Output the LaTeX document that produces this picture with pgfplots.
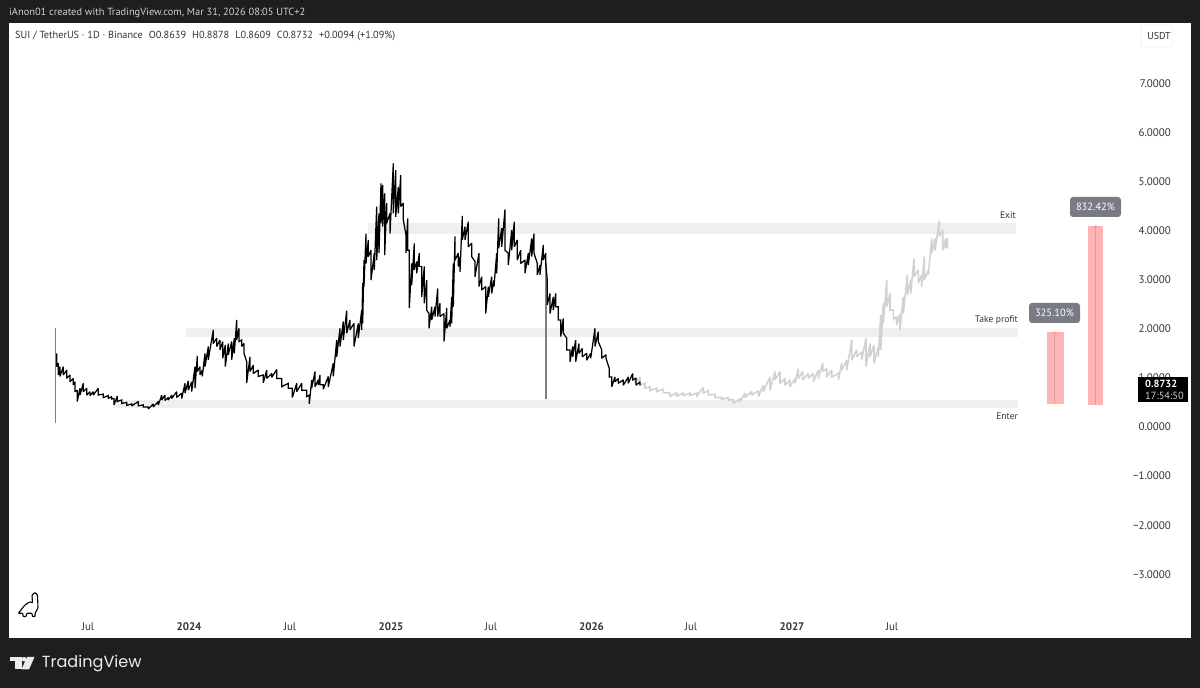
\documentclass[border=0pt]{standalone}
\usepackage{fontspec}
\setmainfont{PT Sans}
\newfontfamily\logofont{Poppins}
\usepackage{pgfplots}
\pgfplotsset{compat=1.18}
\definecolor{frame}{HTML}{1E1E1E}
\definecolor{bandc}{HTML}{EFEFEF}
\definecolor{ghost}{HTML}{D2D2D2}
\definecolor{barc}{HTML}{FFB5B5}
\definecolor{barl}{HTML}{E39C9C}
\definecolor{tagc}{HTML}{787B86}
\definecolor{txt}{HTML}{333333}
\begin{document}
\begin{tikzpicture}[x=1pt,y=1pt]
\useasboundingbox (0,0) rectangle (1200,688);
\fill[frame] (0,0) rectangle (1200,688);
\begin{axis}[
  at={(9pt,50pt)},anchor=south west,
  scale only axis,width=1182pt,height=615pt,
  xmin=9,xmax=1191,ymin=-4.297,ymax=8.228,
  axis background/.style={fill=white},
  axis line style={draw=none},
  major tick length=0pt,
  tick label style={font=\fontsize{11}{12}\selectfont,text=txt},
  xtick={88,189,290,391,491,591.5,691,792,892},
  xticklabels={Jul,\textbf{2024},Jul,\textbf{2025},Jul,\textbf{2026},Jul,\textbf{2027},Jul},
  xticklabel style={anchor=center,yshift=11pt},
  ytick={-3,-2,-1,0,1,2,3,4,5,6,7},
  yticklabels={−3.0000,−2.0000,−1.0000,0.0000,1.0000,2.0000,3.0000,4.0000,5.0000,6.0000,7.0000},
  yticklabel pos=right,
  yticklabel style={anchor=east,xshift=-16.5pt},
  clip=false,
]
% zones
\addplot[fill=bandc,draw=none] coordinates {(368,4.15)(1016,4.15)(1016,3.93)(368,3.93)} --cycle;
\addplot[fill=bandc,draw=none] coordinates {(186,2.02)(1018,2.02)(1018,1.83)(186,1.83)} --cycle;
\addplot[fill=bandc,draw=none] coordinates {(113,0.55)(1018,0.55)(1018,0.39)(113,0.39)} --cycle;
% projected path
\addplot[ghost,line width=1.6pt,line join=miter,miter limit=2] coordinates {
(635,1.02)(635,.89)(640,1.02)(640,.85)(645,.89)(645,.79)(650,.82)(650,.74)(656.7,.79)(656.7,.72)
(663.3,.77)(663.3,.70)(670,.69)(670,.62)(676.7,.70)(676.7,.63)(683.3,.69)(683.3,.64)(690,.69)(690,.64)
(696.7,.69)(696.7,.62)(703.3,.81)(703.3,.69)(708.3,.74)(708.3,.65)(715,.67)(715,.60)(721.7,.60)(721.7,.56)
(728.3,.60)(728.3,.55)(733.3,.56)(733.3,.48)(740,.58)(740,.52)(745,.69)(745,.60)(751.7,.72)(751.7,.65)
(758.3,.74)(758.3,.62)(763.3,.85)(763.3,.72)(770,1.02)(770,.75)(775,1.13)(775,.96)(780,1.13)(780,.89)
(785,.99)(785,.85)(790,.96)(790,.82)(795,.99)(795,.89)(798.3,1.19)(798.3,.99)(802.7,1.13)(802.7,.96)
(808.3,1.09)(808.3,.99)(813.3,1.09)(813.3,.92)(818.3,1.16)(818.3,.99)(822.7,1.30)(822.7,1.13)
(826.7,1.19)(826.7,1.02)(831.7,1.16)(831.7,1.02)(838.3,1.09)(838.3,.96)(841.7,1.30)(841.7,1.16)
(846.7,1.36)(846.7,1.16)(851.7,1.77)(851.7,1.36)(856.7,1.57)(856.7,1.43)(861.7,1.53)(861.7,1.36)
(866,1.81)(866,1.23)(870,1.70)(870,1.43)(874,1.67)(874,1.30)(878.3,1.63)(878.3,1.43)(880.7,2.28)(880.7,1.57)
(883.3,2.52)(883.3,2.11)(886.7,2.99)(886.7,2.45)(890,2.72)(890,2.38)(893.3,2.38)(893.3,2.18)
(896.7,2.25)(896.7,2.08)(900,2.31)(900,1.98)(903.3,2.65)(903.3,2.31)(907.3,3.10)(907.3,2.69)
(910.7,3.00)(910.7,2.72)(914,3.43)(914,3.06)(918.3,3.20)(918.3,2.93)(921.7,3.10)(921.7,2.86)
(924.3,3.47)(924.3,2.99)(928.3,3.20)(928.3,3.10)(931.7,3.84)(931.7,3.54)(935,3.84)(935,3.60)
(939.3,4.20)(939.3,3.88)(942.7,4.01)(942.7,3.60)(945.7,3.84)(945.7,3.64)(947.5,3.84)(947.5,3.64)};
% wicks
\addplot[gray,line width=1.3pt] coordinates {(55.7,2.01)(55.7,0.09)};
\addplot[gray,line width=1.3pt] coordinates {(546,3.33)(546,0.58)};
% price history
\addplot[black,line width=1.25pt,line join=miter,miter limit=2] coordinates {
(56.7,1.50)(56.7,1.23)(58.3,1.30)(58.3,1.06)(60,1.23)(60,1.03)(63.3,1.23)(63.3,1.06)(66.7,1.16)(66.7,.99)
(70,1.06)(70,.92)(73.3,.99)(73.3,.86)(75,.92)(75,.72)(77.3,.75)(77.3,.52)(80,.79)(80,.65)(83.3,.89)(83.3,.72)
(86.7,.79)(86.7,.65)(90,.72)(90,.64)(93.3,.72)(93.3,.65)(98.3,.79)(98.3,.65)(103.3,.67)(103.3,.60)
(108.3,.64)(108.3,.58)(111.7,.62)(111.7,.57)(114,.58)(114,.45)(117.3,.63)(117.3,.52)(121.7,.55)(121.7,.48)
(126.7,.50)(126.7,.44)(131.7,.47)(131.7,.43)(138.3,.52)(138.3,.43)(143.3,.45)(143.3,.41)(148.3,.41)(148.3,.37)
(153.3,.47)(153.3,.41)(158.3,.52)(158.3,.45)(161.7,.65)(161.7,.55)(165,.65)(165,.54)(168.3,.60)(168.3,.55)
(171.7,.65)(171.7,.58)(176.7,.72)(176.7,.60)(181.7,.69)(181.7,.58)(185,.89)(185,.69)(188.3,.94)(188.3,.75)
(191.7,.92)(191.7,.72)(195,1.23)(195,.79)(197.3,1.45)(197.3,1.13)(200,1.23)(200,1.06)(202.3,1.16)(202.3,1.03)
(205,1.50)(205,1.23)(208.3,1.64)(208.3,1.37)(213.3,1.98)(213.3,1.70)(216.7,1.81)(216.7,1.64)(220,1.77)(220,1.57)
(222.7,1.74)(222.7,1.40)(225.3,1.67)(225.3,1.23)(228.3,1.70)(228.3,1.47)(231.7,1.74)(231.7,1.37)
(234.3,1.81)(234.3,1.50)(236.7,2.18)(236.7,1.77)(239,2.01)(239,1.74)(241.7,1.77)(241.7,1.64)(244,1.70)(244,1.50)
(246.7,1.33)(246.7,.90)(250,1.43)(250,1.13)(253.3,1.26)(253.3,1.09)(258.3,1.16)(258.3,1.03)(263.3,1.06)(263.3,.90)
(266.7,1.16)(266.7,.99)(271.7,1.09)(271.7,1.01)(276.7,1.17)(276.7,.99)(281.7,.99)(281.7,.82)(288.3,.89)(288.3,.79)
(292.3,.79)(292.3,.60)(296.7,.89)(296.7,.72)(301.7,.89)(301.7,.75)(306.7,.75)(306.7,.62)(309.3,.65)(309.3,.47)
(311.7,.96)(311.7,.79)(315,1.13)(315,.82)(318.3,.96)(318.3,.86)(320,1.06)(320,.86)(323.3,.86)(323.3,.77)
(328.3,1.03)(328.3,.82)(333.3,1.30)(333.3,1.03)(336.7,1.77)(336.7,1.43)
(340,2.01)(340,1.64)(343.3,2.15)(343.3,1.77)(346.7,2.37)(346.7,1.91)(350,2.18)(350,1.98)(354,2.11)(354,1.64)
(358.3,2.11)(358.3,1.81)(361.7,2.38)(361.7,1.98)(362.7,2.93)(362.7,2.11)(364,3.40)(364,2.86)(366,3.94)(366,3.33)
(368.3,3.81)(368.3,3.47)(371,3.60)(371,2.99)(374.3,3.54)(374.3,3.20)(376.7,4.49)(376.7,3.40)(379,4.35)(379,3.54)
(381,4.96)(381,4.15)(382.7,4.93)(382.7,4.08)(384.7,4.76)(384.7,3.50)(386.7,4.56)(386.7,4.15)(390,4.35)(390,3.94)
(393.3,5.37)(393.3,4.35)(395.7,5.23)(395.7,4.28)(398.3,4.89)(398.3,4.35)(400.7,5.13)(400.7,4.49)(403.3,4.56)(403.3,4.22)
(406,3.91)(406,3.54)(407.7,4.25)(407.7,3.60)(409.3,3.60)(409.3,2.42)(411.7,3.33)(411.7,2.89)(414.3,3.74)(414.3,3.20)
(416.7,3.37)(416.7,3.13)(419.3,3.54)(419.3,3.27)(421.7,3.27)(421.7,2.65)(424.3,3.27)(424.3,2.52)(426.7,2.99)(426.7,2.38)
(429,2.31)(429,2.01)(431.7,2.45)(431.7,2.18)(435,2.45)(435,2.25)(437.7,2.82)(437.7,2.25)(440,2.52)(440,2.25)
(444,2.31)(444,1.74)(446.7,2.42)(446.7,2.01)(450,2.18)(450,2.04)(451.7,2.65)(451.7,2.11)(453.3,3.33)(453.3,2.45)
(455,3.88)(455,3.40)(458.3,3.54)(458.3,3.27)(460,3.47)(460,3.16)(462.3,4.30)(462.3,3.81)(465,4.08)(465,3.81)
(468.3,4.18)(468.3,3.67)(471.7,3.74)(471.7,3.47)(475,3.37)(475,3.06)(479,3.54)(479,2.86)(481.7,3.06)(481.7,2.79)
(485.7,2.86)(485.7,2.31)(488.3,2.86)(488.3,2.65)(491.7,3.06)(491.7,2.72)(494,2.99)(494,2.86)(496.7,3.54)(496.7,3.13)
(498.7,4.25)(498.7,3.64)(501.7,4.05)(501.7,3.67)(505,4.43)(505,3.60)(508.3,3.54)(508.3,3.30)(511.7,4.01)(511.7,3.60)
(514.3,4.18)(514.3,3.67)(517.3,3.81)(517.3,3.40)(520.7,3.60)(520.7,3.33)(525,3.40)(525,3.13)(528.3,3.54)(528.3,3.30)
(531.7,3.84)(531.7,3.47)(534,3.94)(534,3.54)(537.3,3.33)(537.3,3.10)(540,3.30)(540,3.10)(543.3,3.71)(543.3,3.40)
(545.7,3.54)(545.7,3.33)(547.3,2.99)(547.3,2.49)(550,2.72)(550,2.31)(553.3,2.65)(553.3,2.38)(555.7,2.72)(555.7,2.45)
(558.3,2.45)(558.3,2.18)(560.7,2.18)(560.7,1.84)(563.3,2.21)(563.3,1.91)(566.7,1.81)(566.7,1.57)(570,1.57)(570,1.33)
(572.7,1.64)(572.7,1.43)(575.7,1.77)(575.7,1.33)(579,1.70)(579,1.50)(582.3,1.60)(582.3,1.43)(586.7,1.50)(586.7,1.36)
(590.7,1.50)(590.7,1.40)(595,2.01)(595,1.64)(598.3,1.94)(598.3,1.74)(601.7,1.57)(601.7,1.40)(606,1.47)(606,1.40)
(609.3,1.19)(609.3,1.02)(611.7,1.02)(611.7,.82)(615,1.02)(615,.92)(618.3,.99)(618.3,.89)(623.3,.96)(623.3,.85)
(628.3,1.02)(628.3,.89)(632.7,1.09)(632.7,.96)(636,.99)(636,.85)(640,.92)(640,.85)};
% measured moves
\addplot[fill=barc,draw=none] coordinates {(1046.7,1.94)(1063.7,1.94)(1063.7,.46)(1046.7,.46)} --cycle;
\addplot[fill=barc,draw=none] coordinates {(1087.7,4.10)(1103.3,4.10)(1103.3,.45)(1087.7,.45)} --cycle;
\addplot[barl,line width=.7pt] coordinates {(1054.7,1.94)(1054.7,.46)};
\addplot[barl,line width=.7pt] coordinates {(1095.7,4.10)(1095.7,.45)};
\addplot[barl,line width=.6pt] coordinates {(1052,1.89)(1054.7,1.94)(1057.4,1.89)};
\addplot[barl,line width=.6pt] coordinates {(1093,4.05)(1095.7,4.10)(1098.4,4.05)};
\end{axis}
% header texts
\node[anchor=west,text=white!82!black,font=\fontsize{10.4}{12}\selectfont,inner sep=0] at (9,688-13) {iAnon01 created with TradingView.com, Mar 31, 2026 08:05 UTC+2};
\node[anchor=west,text=txt,font=\fontsize{10.3}{12}\selectfont,inner sep=0] at (15,688-35.5) {SUI / TetherUS · 1D · Binance\hspace{6pt}O0.8639\hspace{6pt}H0.8878\hspace{6pt}L0.8609\hspace{6pt}C0.8732\hspace{6pt}+0.0094 (+1.09\%)};
% zone labels
\node[anchor=east,text=txt,font=\fontsize{9.5}{10}\selectfont,inner sep=0] at (1016,688-215) {Exit};
\node[anchor=east,text=txt,font=\fontsize{9.5}{10}\selectfont,inner sep=0] at (1018,688-320) {Take profit};
\node[anchor=east,text=txt,font=\fontsize{9.5}{10}\selectfont,inner sep=0] at (1018,688-416) {Enter};
% percent tags
\fill[tagc,rounded corners=3pt] (1029,688-323) rectangle (1080,688-303);
\node[text=white,font=\fontsize{10.5}{12}\selectfont,inner sep=0] at (1054.5,688-313) {325.10\%};
\fill[tagc,rounded corners=3pt] (1070,688-217) rectangle (1121,688-197);
\node[text=white,font=\fontsize{10.5}{12}\selectfont,inner sep=0] at (1095.5,688-207) {832.42\%};
% last price tag
\fill[black] (1138,688-402) rectangle (1188,688-377);
\node[anchor=west,text=white,font=\fontsize{10.4}{12}\selectfont\bfseries,inner sep=0] at (1145,688-384) {0.8732};
\node[anchor=west,text=white!80!black,font=\fontsize{10.4}{12}\selectfont,inner sep=0] at (1145,688-396) {17:54:50};
% currency box
\draw[black!6,rounded corners=2pt,line width=.7pt] (1141,688-47) rectangle (1172,688-25);
\node[text=txt,font=\fontsize{10}{11}\selectfont,inner sep=0] at (1159,688-36) {USDT};
% mascot
\draw[black,line width=1.1pt,line join=round,rounded corners=.7pt]
 (18.3,688-613.3) -- (25,688-605) -- (30,688-601.7) -- (32.5,688-603) -- (32,688-595) -- (35,688-592.5) -- (37.5,688-595) -- (38,688-608)
 -- (35,688-613.3) -- (35,688-616.7) -- (32.5,688-616.7) -- (32,688-613.3) -- (26.7,688-613.3) -- (26,688-616.7) -- (23.3,688-616.7) -- (22.7,688-613.3) -- cycle;
% logo
\fill[white!92!black] (10,688-657) rectangle (21.5,688-661.5);
\fill[white!92!black] (15,688-661.5) rectangle (21.5,688-669.5);
\fill[white!92!black] (24,688-659.2) circle (2.3);
\fill[white!92!black] (27,688-657) -- (34.5,688-657) -- (29,688-669.5) -- (21.5,688-669.5) -- cycle;
\node[anchor=west,text=white!92!black,font=\fontsize{16.1}{18}\selectfont\logofont,inner sep=0] at (41.7,688-663.5) {TradingView};
\end{tikzpicture}
\end{document}
